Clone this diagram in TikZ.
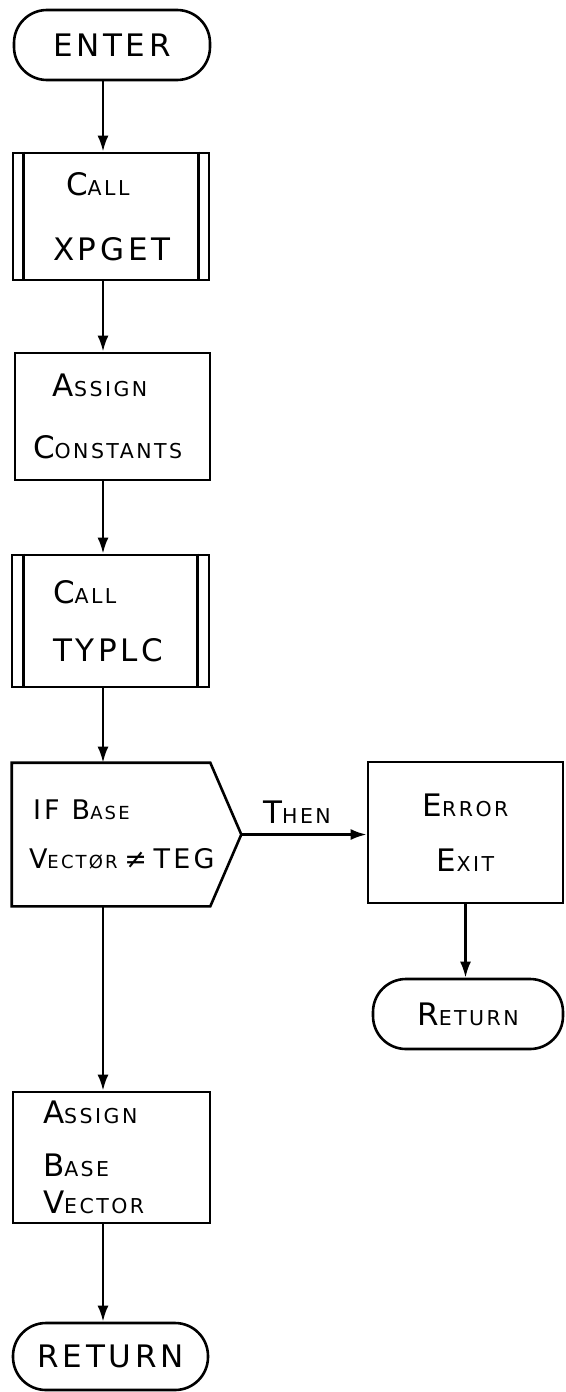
\documentclass[tikz,border=0pt]{standalone}
\usepackage{fontspec}
\newfontfamily\hand[LetterSpace=12]{DejaVu Sans}
\usetikzlibrary{arrows.meta,calc}
\newcommand\BG[1]{{\fontsize{31}{20}\selectfont #1}}
\newcommand\SM[1]{{\fontsize{20.5}{20}\selectfont #1}}
\newcommand\BGi[1]{{\fontsize{27}{20}\selectfont #1}}
\newcommand\SMi[1]{{\fontsize{18}{20}\selectfont #1}}
\begin{document}
\begin{tikzpicture}[x=1pt,y=-1pt,
  box/.style={draw,line width=2.6pt,rectangle,inner ysep=0pt,font=\hand\fontsize{20}{20}\selectfont},
  term/.style={box,rounded corners=33pt,align=center},
  edge/.style={line width=2.6pt},
  arr/.style={line width=2.6pt,-{Latex[length=16pt,width=11pt]}},
  lbl/.style={font=\hand\fontsize{20}{20}\selectfont}]
\fill[white] (0,0) rectangle (565,1392);
\useasboundingbox (0,0) rectangle (565,1392);

\node[term, minimum width=196pt, minimum height=70pt] (enter) at (112,45) {\BG{ENTER}};

\node[box, minimum width=196pt, minimum height=127pt, text width=116pt, inner xsep=40pt, align=left] (xpget) at (111,216.5)
  {\hspace*{13pt}\BG{C}\SM{ALL}\\[40pt]\BG{XPGET}};
\draw[edge] ([xshift=12pt]xpget.north west) -- ([xshift=12pt]xpget.south west);
\draw[edge] ([xshift=-12pt]xpget.north east) -- ([xshift=-12pt]xpget.south east);

\node[box, minimum width=195pt, minimum height=127pt, text width=159pt, inner xsep=18pt, align=left] (const) at (112.5,416.5)
  {\hspace*{20pt}\BG{A}\SM{SSIGN}\\[37pt]\BG{C}\SM{ONSTANTS}};

\node[box, minimum width=197pt, minimum height=132pt, text width=115pt, inner xsep=41pt, align=left] (typlc) at (110.5,621)
  {\BG{C}\SM{ALL}\\[33pt]\BG{TYPLC}};
\draw[edge] ([xshift=13pt]typlc.north west) -- ([xshift=13pt]typlc.south west);
\draw[edge] ([xshift=-13pt]typlc.north east) -- ([xshift=-13pt]typlc.south east);

\node[box, draw=none, minimum width=196pt, minimum height=141pt, text width=180pt, inner xsep=8pt, align=left] (if) at (111,834.5)
  {\hspace*{12pt}\BGi{IF}\hspace*{12pt}\BGi{B}\SMi{ASE}\\[27pt]\hspace*{8pt}\BGi{V}\SMi{ECTØR}~\BGi{≠}~\BGi{TEG}};
\coordinate (iftip) at ([xshift=31pt]if.east);
\draw[edge] (if.north west) -- (if.north east) -- (iftip) -- (if.south east) -- (if.south west) -- cycle;

\node[box, minimum width=195pt, minimum height=141pt, align=center] (err) at (465.5,832.5)
  {\BG{E}\SM{RROR}\\[31pt]\BG{E}\SM{XIT}};
\draw[arr] (iftip) -- (iftip -| err.west);
\node[lbl] (then) at (297,812) {\BG{T}\SM{HEN}};

\node[term, minimum width=190pt, minimum height=70pt] (ret1) at (468,1014) {\BG{R}\SM{ETURN}};
\draw[arr] (err.south) -- (err.south |- ret1.north);

\node[box, minimum width=197pt, minimum height=131pt, text width=137pt, inner xsep=30pt, align=left] (abv) at (111.5,1157.5)
  {\BG{A}\SM{SSIGN}\\[29pt]\BG{B}\SM{ASE}\\[13pt]\BG{V}\SM{ECTOR}};

\node[term, minimum width=195pt, minimum height=67pt] (ret2) at (110.5,1356.5) {\BG{RETURN}};

\coordinate (colx) at (103,0);
\draw[arr] (enter.south -| colx) -- (xpget.north -| colx);
\draw[arr] (xpget.south -| colx) -- (const.north -| colx);
\draw[arr] (const.south -| colx) -- (typlc.north -| colx);
\draw[arr] (typlc.south -| colx) -- (if.north -| colx);
\draw[arr] (if.south -| colx) -- (abv.north -| colx);
\draw[arr] (abv.south -| colx) -- (ret2.north -| colx);
\end{tikzpicture}
\end{document}
